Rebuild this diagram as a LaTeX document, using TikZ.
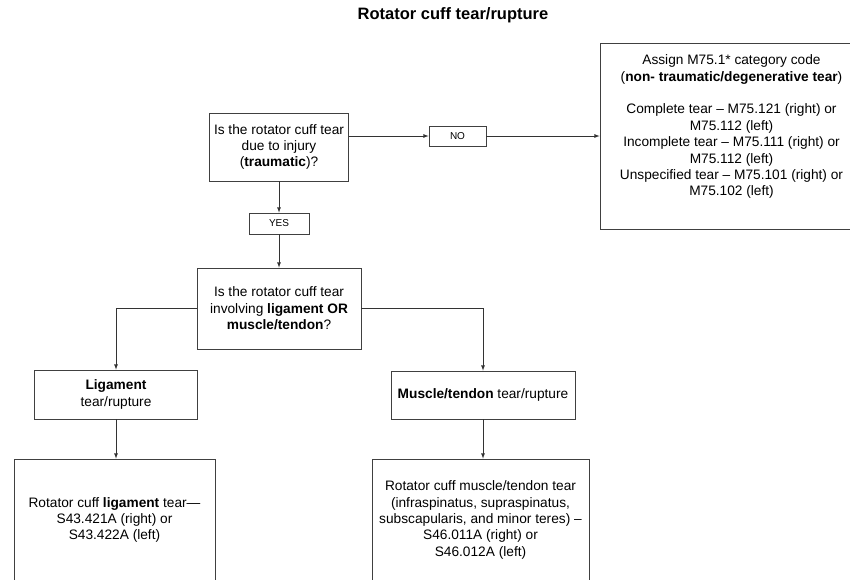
\documentclass[tikz,border=0pt]{standalone}
\usepackage{fontspec}
\setmainfont{Liberation Sans}
\usetikzlibrary{positioning}

\begin{document}
\begin{tikzpicture}[x=1pt, y=-1pt, >=latex, line width=0.8pt,
  font=\fontsize{13.7}{16.4}\selectfont,
  box/.style={draw=black!75, rectangle, align=center, inner sep=2pt},
  tag/.style={draw=black!75, rectangle, inner sep=0pt, font=\fontsize{10}{12}\selectfont},
  link/.style={->, draw=black!80}]
  % Marco
  \useasboundingbox (0,0) rectangle (850,579);
  \clip (0,0) rectangle (850,579);

  % Titulo
  \node[font=\bfseries\fontsize{16.5}{20}\selectfont] (title) at (453,15) {Rotator cuff tear/rupture};

  % Primera pregunta
  \node[box, minimum width=139pt, minimum height=68pt] (injury) at (279,147)
    {Is the rotator cuff tear\\due to injury\\(\textbf{traumatic})?};
  \node[tag, minimum width=57pt, minimum height=20pt] (no) at (457.5,136) {NO};
  \node[tag, minimum width=60pt, minimum height=21pt] (yes) at (279,223.5) {YES};

  % Caso no traumatico
  \node[box, minimum width=263pt, minimum height=186pt] (assign) at (731.5,136)
    {Assign M75.1* category code\\(\textbf{non- traumatic/degenerative tear})\\[16.4pt]
     Complete tear -- M75.121 (right) or\\M75.112 (left)\\
     Incomplete tear -- M75.111 (right) or\\M75.112 (left)\\
     Unspecified tear -- M75.101 (right) or\\M75.102 (left)\\ \strut};

  % Segunda pregunta
  \node[box, minimum width=164pt, minimum height=81pt] (involve) at (279,308.5)
    {Is the rotator cuff tear\\involving \textbf{ligament OR}\\\textbf{muscle/tendon}?};

  % Ramas
  \node[box, minimum width=163pt, minimum height=49pt] (lig) at (116,394.5)
    {\textbf{Ligament}\\tear/rupture};
  \node[box, minimum width=184pt, minimum height=48pt] (muscle) at (483,395)
    {\textbf{Muscle/tendon} tear/rupture};

  % Codigos finales
  \node[box, minimum width=201pt, minimum height=122pt] (ligcode) at (114.5,520)
    {Rotator cuff \textbf{ligament} tear---\\S43.421A (right) or\\S43.422A (left)};
  \node[box, minimum width=217pt, minimum height=122pt] (musclecode) at (480.5,520)
    {Rotator cuff muscle/tendon tear\\(infraspinatus, supraspinatus,\\subscapularis, and minor teres) --\\S46.011A (right) or\\S46.012A (left)};

  % Conectores
  \draw[link] (injury.east |- no.west) -- (no.west);
  \draw[link] (no.east) -- (assign.west |- no.east);
  \draw[link] (injury.south) -- (yes.north);
  \draw[link] (yes.south) -- (involve.north);
  \draw[link] (involve.west) -| (lig.north);
  \draw[link] (involve.east) -| (muscle.north);
  \draw[link] (lig.south) -- (lig.south |- ligcode.north);
  \draw[link] (muscle.south) -- (muscle.south |- musclecode.north);
\end{tikzpicture}
\end{document}
